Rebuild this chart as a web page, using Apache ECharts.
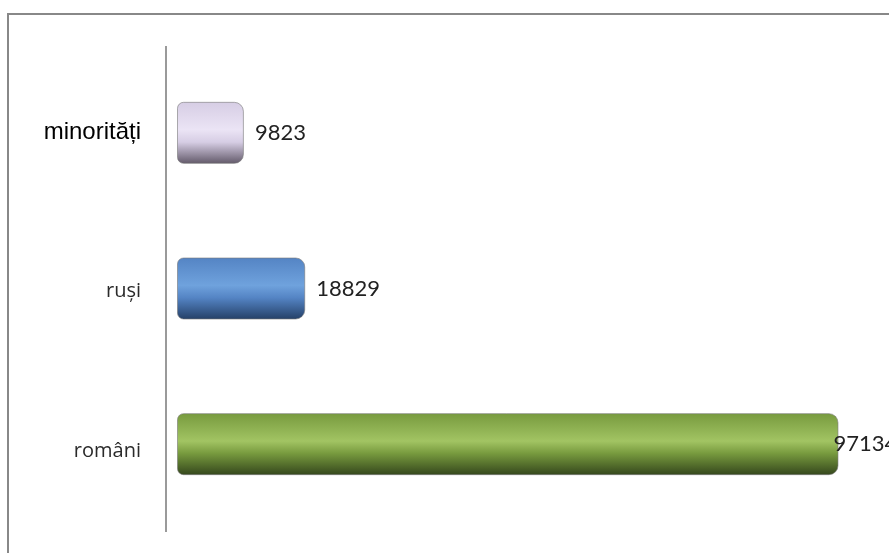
<!DOCTYPE html>
<html><head><meta charset="utf-8">
<script src="https://cdn.jsdelivr.net/npm/echarts@6/dist/echarts.min.js"></script>
<style>html,body{margin:0;padding:0;background:#fff}#c{width:889px;height:553px}</style>
</head><body><div id="c"></div>
<script>
var categories = ['minorități', 'ruși', 'români'];
var values = [9823, 18829, 97134];
var topColors = ['#d6cde4', '#5484c4', '#779a3e'];
var midColors = ['#ebe4f5', '#6fa2dd', '#a2c463'];
var bottomColors = ['#615868', '#243f66', '#34461c'];
var labelOffsets = [[0, 0], [0, 0], [-16, 0]];

function grad(i) {
  return new echarts.graphic.LinearGradient(0, 0, 0, 1, [
    {offset: 0, color: topColors[i]},
    {offset: 0.45, color: midColors[i]},
    {offset: 0.65, color: topColors[i]},
    {offset: 1, color: bottomColors[i]}
  ]);
}

var chart = echarts.init(document.getElementById('c'));
chart.setOption({
  animation: false,
  backgroundColor: '#fff',
  grid: {left: 177, right: 31, top: 55, bottom: 31, containLabel: false},
  xAxis: {type: 'value', min: 0, max: 100000, show: false},
  yAxis: {
    type: 'category', data: categories, inverse: true,
    axisLine: {show: false}, axisTick: {show: false},
    axisLabel: {
      margin: 36,
      formatter: function (v) {
        if (v === 'minorități') return '{a|' + v + '}';
        if (v === 'ruși') return '{c|' + v + '}';
        return '{d|' + v + '}';
      },
      rich: {
        a: {fontFamily: 'Liberation Sans', fontSize: 24, color: '#000'},
        c: {fontFamily: 'Open Sans', fontSize: 20, color: '#2a2a2a', padding: [6, 0, 0, 0]},
        d: {fontFamily: 'Open Sans', fontSize: 20, color: '#2a2a2a', padding: [14, 0, 0, 0]}
      }
    }
  },
  graphic: [
    {type: 'rect', shape: {x: 8, y: 14, width: 1000, height: 1000}, style: {fill: 'none', stroke: '#888', lineWidth: 2}, silent: true},
    {type: 'line', shape: {x1: 166, y1: 46, x2: 166, y2: 532}, style: {stroke: '#9a9a9a', lineWidth: 2}, silent: true}
  ],
  series: [{
    type: 'bar',
    barWidth: 62,
    data: values.map(function (v, i) {
      return {
        value: v,
        itemStyle: {color: grad(i), borderRadius: [6, 9, 9, 6], borderColor: 'rgba(120,120,120,0.6)', borderWidth: 1},
        label: {offset: labelOffsets[i]}
      };
    }),
    label: {
      show: true, position: 'right', distance: 11,
      fontFamily: 'Lato', fontSize: 22, color: '#222'
    }
  }]
});
</script>
</body></html>
